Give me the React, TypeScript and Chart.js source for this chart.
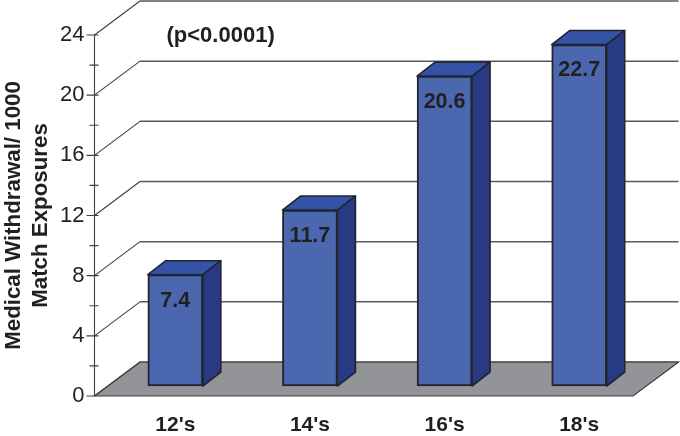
import React, { useEffect, useRef } from "react";
import { Chart, registerables } from "chart.js";

Chart.register(...registerables);

const categories = ["12's", "14's", "16's", "18's"];
const values = [7.4, 11.7, 20.6, 22.7];
const yTitle = ["Medical Withdrawal/ 1000", "Match Exposures"];
const note = "(p<0.0001)";
const FONT = '"Liberation Sans", Arial, sans-serif';
const INK = "#231f20";
const LINE = "#3f3f42";

const WALL_DX = 45.5, WALL_DY = -34; // depth of the 3D floor
const BAR_DX = 13.5, BAR_DY = -10;   // where the bars stand on the floor
const SIDE_DX = 18, SIDE_DY = -14;   // depth of each bar

const scene = {
  id: "scene",
  beforeDatasetsDraw(chart: any) {
    const { ctx, chartArea: a, scales } = chart;
    const y = scales.y;
    const y0 = y.getPixelForValue(0);
    ctx.save();
    // floor
    ctx.beginPath();
    ctx.moveTo(a.left, y0);
    ctx.lineTo(a.left + WALL_DX, y0 + WALL_DY);
    ctx.lineTo(a.right + WALL_DX, y0 + WALL_DY);
    ctx.lineTo(a.right, y0);
    ctx.closePath();
    ctx.fillStyle = "#929497";
    ctx.fill();
    ctx.strokeStyle = LINE;
    ctx.lineWidth = 1.2;
    ctx.stroke();
    // walls
    for (const t of y.ticks) {
      const py = y.getPixelForValue(t.value);
      if (t.value % 4 === 0) {
        ctx.strokeStyle = LINE;
        ctx.lineWidth = 1.1;
        ctx.beginPath();
        ctx.moveTo(a.left, py);
        ctx.lineTo(a.left + WALL_DX, py + WALL_DY);
        ctx.stroke();
        ctx.strokeStyle = "#58595b";
        ctx.lineWidth = 1.5;
        ctx.beginPath();
        ctx.moveTo(a.left + WALL_DX, py + WALL_DY);
        ctx.lineTo(a.right + WALL_DX, py + WALL_DY);
        ctx.stroke();
      }
    }
    // axis line and tick marks
    ctx.strokeStyle = LINE;
    ctx.lineWidth = 1.1;
    ctx.beginPath();
    ctx.moveTo(a.left, a.top);
    ctx.lineTo(a.left, y0);
    for (const t of y.ticks) {
      const py = y.getPixelForValue(t.value);
      const major = t.value % 4 === 0;
      ctx.moveTo(a.left - (major ? 8 : 5), py);
      ctx.lineTo(a.left + (t.value === 0 ? 0 : 4), py);
    }
    ctx.stroke();
    ctx.restore();
  },
  beforeDatasetDraw(chart: any) {
    const { ctx } = chart;
    ctx.save();
    ctx.translate(BAR_DX, BAR_DY);
    ctx.lineJoin = "round";
    ctx.lineWidth = 1.6;
    ctx.strokeStyle = "#23252e";
    for (const el of chart.getDatasetMeta(0).data) {
      const l = el.x - el.width / 2, r = el.x + el.width / 2, t = el.y, b = el.base;
      ctx.beginPath();
      ctx.moveTo(l, t);
      ctx.lineTo(l + SIDE_DX, t + SIDE_DY);
      ctx.lineTo(r + SIDE_DX, t + SIDE_DY);
      ctx.lineTo(r, t);
      ctx.closePath();
      ctx.fillStyle = "#3453a6";
      ctx.fill();
      ctx.stroke();
      ctx.beginPath();
      ctx.moveTo(r, t);
      ctx.lineTo(r + SIDE_DX, t + SIDE_DY);
      ctx.lineTo(r + SIDE_DX, b + SIDE_DY);
      ctx.lineTo(r, b);
      ctx.closePath();
      ctx.fillStyle = "#273a83";
      ctx.fill();
      ctx.stroke();
    }
  },
  afterDatasetDraw(chart: any) {
    chart.ctx.restore();
  },
  afterDatasetsDraw(chart: any) {
    const { ctx, chartArea: a } = chart;
    ctx.save();
    ctx.fillStyle = INK;
    ctx.textAlign = "center";
    ctx.textBaseline = "middle";
    ctx.font = `bold 21.5px ${FONT}`;
    chart.getDatasetMeta(0).data.forEach((el: any, i: number) => {
      ctx.fillText(values[i].toFixed(1), el.x + BAR_DX, el.y + BAR_DY + 26);
    });
    ctx.font = `bold 22px ${FONT}`;
    ctx.textAlign = "left";
    ctx.fillText(note, a.left + 72, a.top + 1);
    ctx.restore();
  },
};

export default function App() {
  const ref = useRef<HTMLCanvasElement>(null);
  useEffect(() => {
    const chart = new Chart(ref.current!, {
      type: "bar",
      data: {
        labels: categories,
        datasets: [
          {
            data: values,
            backgroundColor: "#4a67b0",
            borderColor: "#23252e",
            borderWidth: 2,
            borderSkipped: false,
            barThickness: 55,
            clip: false,
          } as any,
        ],
      },
      options: {
        responsive: false,
        animation: false,
        layout: { padding: { left: 0, right: 47, top: 35, bottom: 0 } },
        plugins: { legend: { display: false }, tooltip: { enabled: false } },
        scales: {
          x: {
            grid: { display: false, drawTicks: false },
            border: { display: false },
            afterFit: (s: any) => { s.height = 40; },
            ticks: {
              color: INK,
              labelOffset: BAR_DX,
              padding: 17,
              maxRotation: 0,
              font: { family: FONT, size: 21, weight: "bold" },
            },
          },
          y: {
            min: 0,
            max: 24,
            grid: { display: false, drawTicks: false },
            border: { display: false },
            afterFit: (s: any) => { s.width = 94.5; },
            title: {
              display: true,
              text: yTitle,
              color: INK,
              font: { family: FONT, size: 22.3, weight: "bold", lineHeight: 1.22 },
              padding: { top: 0, bottom: 0 },
            },
            ticks: {
              stepSize: 2,
              autoSkip: false,
              padding: 10,
              color: INK,
              font: { family: FONT, size: 22 },
              callback: (v: any) => (Number(v) % 4 === 0 ? String(v) : ""),
            },
          },
        },
      },
      plugins: [scene],
    });
    return () => chart.destroy();
  }, []);
  return (
    <canvas
      ref={ref}
      width={680}
      height={436}
      style={{ position: "absolute", left: 0, top: 0, display: "block" }}
    />
  );
}
